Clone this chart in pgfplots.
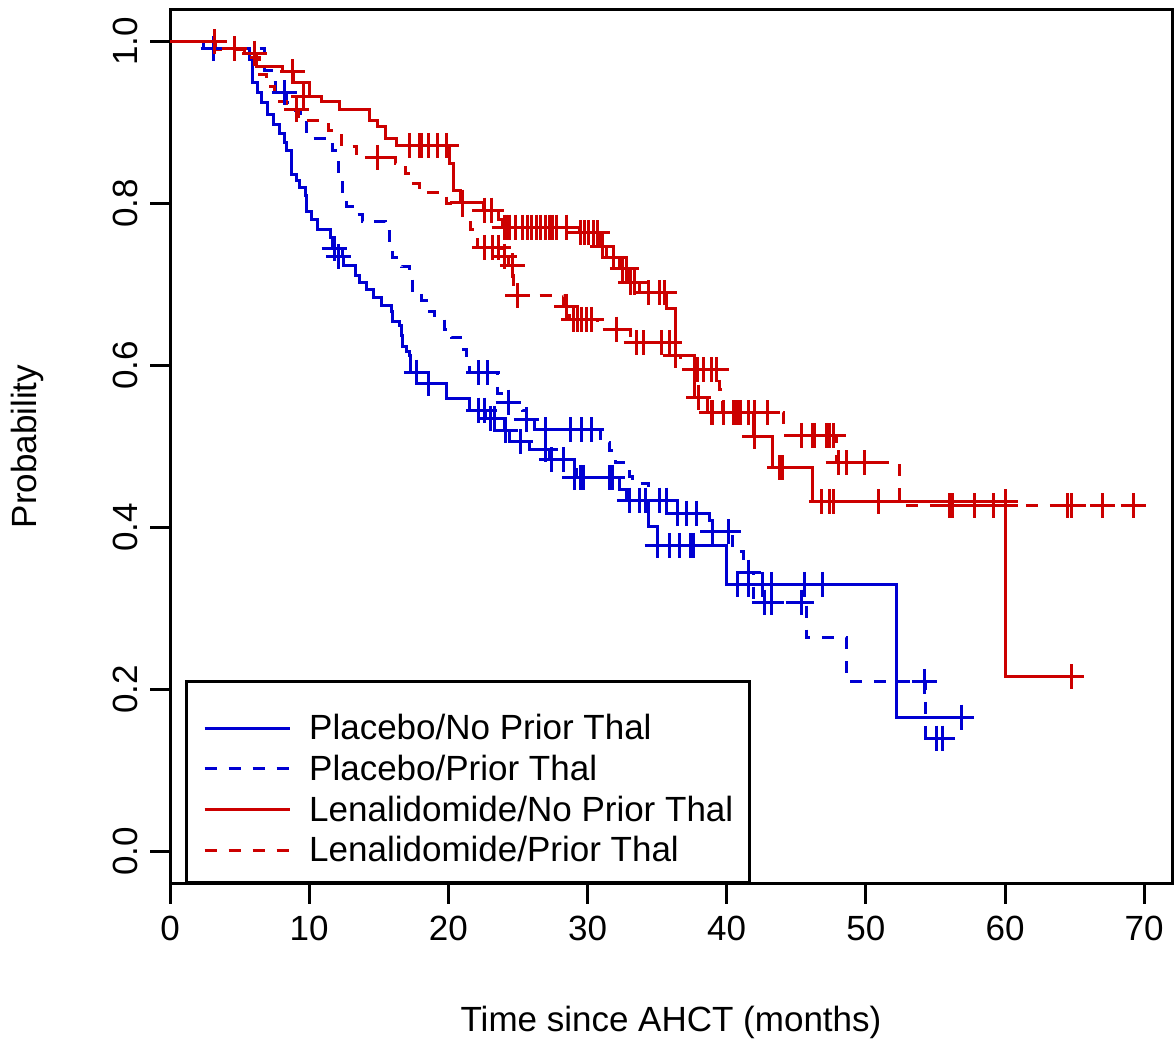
\documentclass[border=0pt]{standalone}
\usepackage{fontspec}
\setmainfont{Liberation Sans}
\usepackage{pgfplots}
\pgfplotsset{compat=1.18}
\definecolor{kmblue}{RGB}{0,0,210}
\definecolor{kmred}{RGB}{204,0,0}

\begin{document}
\fontsize{10.5}{12.6}\selectfont
\begin{tikzpicture}
\begin{axis}[
    scale only axis,
    width=300.6pt, height=262.4pt,
    xmin=0, xmax=72,
    ymin=-0.04, ymax=1.04,
    xtick={0,10,20,30,40,50,60,70},
    ytick={0,0.2,0.4,0.6,0.8,1.0},
    yticklabels={0.0,0.2,0.4,0.6,0.8,1.0},
    xtick pos=bottom, ytick pos=left,
    tick align=outside,
    major tick length=6pt,
    every tick/.style={black, line width=0.9pt},
    axis line style={line width=0.9pt},
    /pgf/number format/assume math mode=true,
    yticklabel style={rotate=90, anchor=south},
    xlabel={Time since AHCT (months)},
    ylabel={Probability},
    xlabel style={at={(rel axis cs:0.5,-0.1578)}, anchor=center},
    ylabel style={at={(rel axis cs:-0.1427,0.5)}, anchor=center},
    legend style={at={(rel axis cs:0.015,0)}, anchor=south west,
        draw=black, line width=0.9pt, fill=white,
        inner xsep=5pt, inner ysep=5.75pt,
        font=\fontsize{10.5}{12.6}\selectfont,
        nodes={inner sep=0pt, text height=11.8pt, text depth=0.4pt, anchor=west},
        /tikz/every odd column/.append style={column sep=5.4pt}},
    legend cell align=left,
    legend image code/.code={\draw[#1] (0pt,-2.2pt) -- (25.5pt,-2.2pt);},
    clip=false,
]

% Placebo / No prior thal
\addplot[const plot, kmblue, line width=0.9pt] coordinates {
(0,1.0) (2.4,0.992) (5.7,0.978) (5.9,0.95) (6.3,0.937) (6.6,0.925) (7.0,0.91)
(7.4,0.898) (7.9,0.886) (8.2,0.876) (8.4,0.865) (8.7,0.836) (9.1,0.828) (9.3,0.82)
(9.7,0.81) (9.8,0.79) (10.2,0.781) (10.6,0.768) (11.5,0.758) (11.7,0.744) (12.4,0.735)
(12.5,0.723) (13.3,0.711) (13.6,0.703) (14.1,0.694) (14.6,0.684) (15.2,0.674) (15.9,0.667)
(16.0,0.654) (16.5,0.649) (16.6,0.637) (16.7,0.624) (17.0,0.617) (17.2,0.612) (17.3,0.592)
(17.7,0.578) (19.9,0.56) (21.5,0.545) (22.7,0.535) (24.0,0.52) (24.4,0.506) (25.8,0.496)
(27.3,0.484) (29.1,0.472) (29.2,0.462) (32.3,0.447) (32.8,0.434) (34.4,0.401) (35.0,0.378)
(40.0,0.33) (52.2,0.166) (56.9,0.166)
};
\addlegendentry{Placebo/No Prior Thal}

% Placebo / prior thal
\addplot[const plot, kmblue, line width=0.9pt, dash pattern=on 3.6pt off 3.6pt] coordinates {
(0,1.0) (2.4,0.992) (6.8,0.965) (7.3,0.95) (7.6,0.937) (8.4,0.925) (9.0,0.915) (9.4,0.904)
(9.8,0.881) (11.7,0.865) (12.1,0.84) (12.4,0.815) (12.7,0.797) (13.3,0.787) (13.8,0.778)
(15.5,0.765) (15.8,0.75) (16.0,0.733) (16.6,0.722) (17.2,0.71) (17.4,0.69) (18.1,0.68)
(18.4,0.667) (19.0,0.657) (19.7,0.645) (20.2,0.635) (20.9,0.62) (21.3,0.605) (21.5,0.591)
(23.5,0.566) (24.3,0.555) (25.3,0.545) (25.6,0.533) (26.2,0.521) (30.9,0.505) (31.6,0.495)
(32.0,0.48) (33.0,0.463) (33.2,0.455) (34.4,0.434) (35.7,0.418) (38.8,0.395) (40.4,0.37)
(41.2,0.345) (41.9,0.308) (45.7,0.264) (48.6,0.21) (54.3,0.14) (55.5,0.14)
};
\addlegendentry{Placebo/Prior Thal}

% Lenalidomide / No prior thal
\addplot[const plot, kmred, line width=0.9pt] coordinates {
(0,1.0) (3.3,0.991) (5.35,0.986) (6.2,0.969) (8.1,0.963) (8.9,0.949) (10.0,0.932)
(10.9,0.926) (12.2,0.916) (14.3,0.903) (14.9,0.895) (15.5,0.881) (16.25,0.872) (20.1,0.849)
(20.4,0.816) (20.9,0.802) (22.5,0.792) (23.6,0.78) (23.9,0.771) (29.4,0.764) (30.9,0.747)
(31.4,0.733) (32.3,0.72) (33.0,0.703) (33.7,0.69) (35.7,0.671) (36.3,0.612) (37.7,0.561)
(38.6,0.542) (41.9,0.512) (43.3,0.474) (46.2,0.432) (60.0,0.216) (64.8,0.216)
};
\addlegendentry{Lenalidomide/No Prior Thal}

% Lenalidomide / prior thal
\addplot[const plot, kmred, line width=0.9pt, dash pattern=on 3.6pt off 3.6pt] coordinates {
(0,1.0) (3.3,0.99) (5.5,0.98) (6.4,0.96) (6.9,0.945) (7.5,0.926) (8.4,0.916) (9.2,0.903)
(11.4,0.89) (12.3,0.87) (13.4,0.862) (13.7,0.857) (16.2,0.849) (16.9,0.837) (17.4,0.825)
(17.9,0.814) (19.9,0.80) (21.0,0.78) (21.6,0.768) (22.1,0.746) (23.8,0.735) (24.3,0.723)
(24.7,0.686) (28.3,0.673) (28.7,0.657) (30.7,0.645) (33.1,0.628) (36.1,0.612) (36.7,0.595)
(39.5,0.57) (39.7,0.542) (44.1,0.514) (47.9,0.48) (52.4,0.427) (69.2,0.427)
};
\addlegendentry{Lenalidomide/Prior Thal}

% censoring marks
\addplot[forget plot, only marks, mark=+, mark size=3.75pt, kmblue, line width=0.9pt] coordinates {
(3.1,0.992) (11.8,0.744) (12.1,0.735) (17.7,0.592) (18.6,0.578) (22.2,0.545) (22.6,0.545)
(23.0,0.535) (23.3,0.535) (24.1,0.52) (25.2,0.506) (27.0,0.496) (27.4,0.484) (28.3,0.484)
(29.1,0.462) (29.5,0.462) (29.7,0.462) (31.6,0.462) (31.8,0.462) (33.0,0.434) (33.7,0.434)
(34.2,0.434) (35.0,0.378) (35.9,0.378) (36.6,0.378) (37.4,0.378) (37.6,0.378) (40.8,0.33)
(41.6,0.33) (42.6,0.33) (43.2,0.33) (45.6,0.33) (46.9,0.33) (56.9,0.166)
};
\addplot[forget plot, only marks, mark=+, mark size=3.75pt, kmblue, line width=0.9pt] coordinates {
(8.2,0.937) (22.2,0.591) (22.8,0.591) (24.3,0.555) (25.6,0.533) (27.0,0.521) (28.8,0.521)
(29.6,0.521) (30.3,0.521) (35.2,0.434) (35.7,0.434) (36.5,0.418) (37.1,0.418) (37.8,0.418)
(39.0,0.395) (40.1,0.395) (41.6,0.345) (42.7,0.308) (43.2,0.308) (45.4,0.308) (54.2,0.21)
(55.1,0.14) (55.5,0.14)
};
\addplot[forget plot, only marks, mark=+, mark size=3.75pt, kmred, line width=0.9pt] coordinates {
(3.2,1.0) (4.6,0.991) (6.1,0.986) (8.8,0.963) (9.6,0.932) (17.2,0.872) (17.9,0.872)
(18.1,0.872) (18.6,0.872) (19.2,0.872) (19.9,0.872) (21.0,0.802) (22.6,0.792) (23.1,0.792)
(24.0,0.771) (24.2,0.771) (24.4,0.771) (24.8,0.771) (25.3,0.771) (25.7,0.771) (26.0,0.771)
(26.3,0.771) (26.6,0.771) (27.0,0.771) (27.3,0.771) (27.5,0.771) (27.8,0.771) (28.5,0.771)
(29.5,0.764) (29.8,0.764) (30.1,0.764) (30.4,0.764) (30.7,0.764) (31.1,0.747) (31.9,0.733)
(32.5,0.72) (32.8,0.72) (33.1,0.703) (33.4,0.703) (34.4,0.69) (35.2,0.69) (35.5,0.69)
(38.0,0.561) (38.9,0.542) (39.0,0.542) (39.8,0.542) (40.5,0.542) (40.8,0.542) (42.0,0.512)
(43.8,0.474) (44.0,0.474) (46.8,0.432) (47.4,0.432) (47.7,0.432) (50.9,0.432) (60.0,0.432)
(64.8,0.216)
};
\addplot[forget plot, only marks, mark=+, mark size=3.75pt, kmred, line width=0.9pt] coordinates {
(9.1,0.916) (14.9,0.857) (22.6,0.746) (23.2,0.746) (23.6,0.746) (24.0,0.735) (24.6,0.723)
(25.0,0.686) (28.5,0.673) (29.0,0.657) (29.3,0.657) (29.6,0.657) (29.9,0.657) (30.3,0.657)
(32.1,0.645) (33.5,0.628) (34.0,0.628) (35.3,0.628) (35.9,0.628) (36.3,0.612) (37.9,0.595)
(38.3,0.595) (38.9,0.595) (39.3,0.595) (40.5,0.542) (40.7,0.542) (41.0,0.542) (41.6,0.542)
(42.0,0.542) (42.9,0.542) (45.4,0.514) (46.2,0.514) (46.3,0.514) (47.2,0.514) (47.4,0.514)
(47.7,0.514) (48.0,0.48) (48.6,0.48) (49.9,0.48) (56.0,0.427) (56.2,0.427) (57.8,0.427)
(59.2,0.427) (60.0,0.427) (64.5,0.427) (64.8,0.427) (67.0,0.427) (69.2,0.427)
};

\coordinate (bbsw) at (rel axis cs:-0.1697,-0.1932);
\coordinate (bbne) at (rel axis cs:1.004,1.0106);
\end{axis}
\pgfresetboundingbox
\path[use as bounding box] (bbsw) rectangle (bbne);
\end{tikzpicture}
\end{document}
